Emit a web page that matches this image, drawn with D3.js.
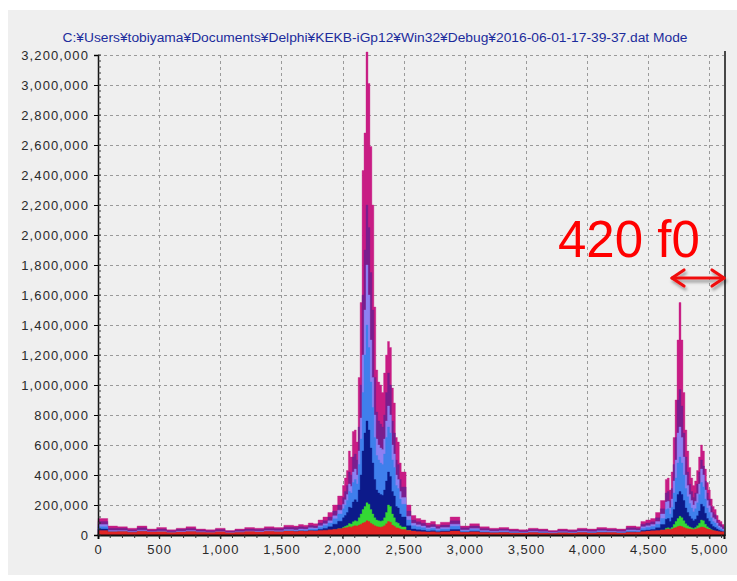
<!DOCTYPE html>
<html lang="en">
<head>
  <meta charset="UTF-8">
  <title>Bunch spectrum</title>
  <script src="https://d3js.org/d3.v7.min.js"></script>
  <style>
    html, body { margin: 0; padding: 0; background: #fff; }
    svg text { font-family: "Liberation Sans", Arial, sans-serif; }
  </style>
</head>
<body>
<svg id="chart" width="737" height="581"></svg>
<script>
// bin positions (bunch number) – finer around the two peaks
const bins = [
  0,80,160,240,320,400,480,560,640,720,800,880,960,1040,1120,1200,1280,1360,1440,1520,1600,
  1640,1680,1720,1760,1800,1840,1880,1920,1960,2000,
  2016,2032,2048,2064,2080,2096,2112,2128,2144,2160,2176,2192,2208,2224,2240,2256,2272,2288,2304,2320,2336,2352,2368,2384,2400,2416,2432,2448,2464,2480,
  2520,2560,2600,2640,2680,2720,2760,2800,
  2880,2960,3040,3120,3200,3280,3360,3440,3520,3600,3680,3760,3840,3920,4000,4080,4160,4240,4320,4400,
  4440,4480,4520,4560,4600,4640,
  4656,4672,4688,4704,4720,4736,4752,4768,4784,4800,4816,4832,4848,4864,4880,4896,4912,4928,4944,4960,4976,4992,5008,5024,5040,5056,5072,5088,5104,5120
];

// amplitudes, in thousands
const pinkK = [
  110,60,55,45,60,40,50,35,45,55,40,35,45,30,40,50,45,55,50,65,60,
  70,65,80,75,100,120,150,200,260,330,
  380,430,560,520,690,700,620,1050,1550,2430,2680,3220,3010,2590,2200,1520,1100,1020,1000,950,1080,1200,1290,1250,980,880,650,620,480,420,
  200,130,110,100,80,90,70,85,
  120,60,75,55,45,50,40,35,45,40,30,40,35,45,40,50,45,40,60,55,
  90,100,110,150,230,370,
  380,300,420,650,900,1300,1550,1300,950,700,560,450,380,330,360,430,520,600,560,440,350,300,240,190,170,130,100,90,70,60
];
const purpleK = [
  90,45,45,35,48,32,40,28,38,44,33,28,36,25,33,40,37,44,41,52,50,
  55,52,64,60,80,95,120,160,200,250,
  290,330,420,400,520,540,500,720,1000,1600,1900,2200,2050,1750,1500,1050,820,760,740,720,800,950,1080,1000,760,680,500,470,370,320,
  160,100,88,78,64,70,56,66,
  95,48,60,44,36,40,32,28,36,32,24,32,28,36,32,40,36,32,48,44,
  72,80,88,115,175,280,
  290,230,310,470,650,900,970,860,680,520,420,340,290,250,280,340,420,500,460,360,280,240,190,150,135,100,80,70,55,48
];
const violetK = [
  70,30,30,24,32,22,27,19,25,30,22,19,24,17,22,27,25,30,28,36,34,
  40,38,48,46,62,75,95,128,165,205,
  235,270,340,325,420,440,400,560,780,1200,1500,1800,1600,1300,1050,800,640,600,580,570,640,760,860,800,600,540,400,370,290,250,
  125,78,68,60,48,54,42,50,
  72,34,44,30,25,28,22,19,25,22,17,22,19,25,22,28,25,22,34,31,
  55,62,70,90,140,220,
  225,180,240,360,500,680,720,650,520,400,330,270,230,200,225,275,340,440,400,300,230,195,150,115,105,80,60,52,40,34
];
const blueK = [
  55,24,25,20,26,18,22,16,20,24,18,16,20,14,18,22,20,24,23,30,28,
  34,32,40,40,52,64,80,108,140,175,
  200,230,290,280,350,370,340,470,640,950,1200,1400,1250,1020,850,650,530,500,480,470,540,650,720,680,500,450,330,310,240,205,
  100,62,55,48,38,43,34,40,
  58,27,35,24,20,22,18,15,20,18,14,18,15,20,18,22,20,18,27,25,
  44,50,56,72,110,170,
  175,140,185,280,380,480,520,480,400,310,255,210,180,155,175,215,270,350,320,240,180,150,115,90,80,62,48,40,32,28
];
const navyK = [
  40,18,19,15,20,14,17,12,15,18,14,12,15,11,14,17,15,18,17,22,21,
  25,24,29,29,37,44,55,72,92,115,
  130,150,185,180,220,235,220,300,400,560,680,760,700,580,480,370,300,280,270,265,300,360,420,390,290,260,190,180,140,120,
  62,40,35,31,25,28,22,26,
  36,18,23,16,14,15,12,11,14,12,10,12,11,14,12,15,14,12,18,17,
  30,33,37,48,70,105,
  110,90,115,170,220,270,290,270,230,180,150,125,108,95,105,128,160,205,190,145,110,92,72,57,50,40,32,27,22,20
];
const greenK = [
  18,10,10,8,11,8,9,7,8,10,8,7,8,6,8,9,8,10,9,12,11,
  13,12,15,15,19,22,27,34,42,52,
  58,64,76,74,88,95,92,115,140,170,190,215,205,170,140,115,100,95,92,95,115,150,200,190,140,115,85,78,62,54,
  30,20,17,15,12,13,11,12,
  16,9,11,8,7,8,6,6,7,6,5,6,6,7,6,8,7,6,9,9,
  14,16,18,22,32,45,
  48,42,50,70,90,110,125,115,95,75,62,54,48,44,50,62,78,100,95,72,55,46,36,29,25,20,16,14,11,10
];
const redK = [
  30,22,24,18,25,20,22,16,20,24,19,17,21,15,19,23,20,25,22,26,24,
  27,25,28,27,30,32,35,38,42,46,
  48,50,55,52,58,62,60,66,72,80,85,95,90,78,70,62,56,54,52,55,62,75,90,85,66,58,48,46,40,36,
  30,26,24,22,20,22,19,21,
  26,18,21,17,15,17,14,13,16,14,12,15,13,16,14,17,16,14,19,18,
  24,26,28,30,34,38,
  40,36,40,46,50,56,60,56,50,45,42,40,38,36,40,44,48,54,52,46,40,38,34,30,28,26,24,22,22,20
];

const seriesNames  = ["pink", "purple", "violet", "blue", "navy", "green", "red"];
const seriesValues = [pinkK, purpleK, violetK, blueK, navyK, greenK, redK];
const seriesColors = ["#c81c84", "#7a1e8e", "#8d80f2", "#3f7fec", "#0c1a8a", "#34d834", "#e02424"];

const yTicks = d3.range(0, 3200001, 200000);
const xTicks = d3.range(0, 5001, 500);
const titleText = "C:¥Users¥tobiyama¥Documents¥Delphi¥KEKB-iGp12¥Win32¥Debug¥2016-06-01-17-39-37.dat  Mode";

const svg = d3.select("#chart");

// panel background
svg.append("rect").attr("x", 8).attr("y", 10).attr("width", 729).attr("height", 565).attr("fill", "#efefef");

const x = d3.scaleLinear().domain([0, 5120]).range([98, 724]);
const y = d3.scaleLinear().domain([0, 3200000]).range([535, 55]);

// grid
const grid = svg.append("g").attr("stroke", "#9a9a9a").attr("stroke-dasharray", "3,3");
grid.selectAll("line.h").data(yTicks.slice(1)).join("line")
  .attr("x1", x(0)).attr("x2", x(5120))
  .attr("y1", d => y(d) + 0.5).attr("y2", d => y(d) + 0.5);
grid.selectAll("line.v").data(xTicks.slice(1)).join("line")
  .attr("y1", y(3200000)).attr("y2", y(0))
  .attr("x1", d => Math.round(x(d)) + 0.5).attr("x2", d => Math.round(x(d)) + 0.5);

// spectra, biggest first
const area = d3.area()
  .x((d, i) => x(bins[i]))
  .y0(y(0))
  .y1(d => y(d * 1000))
  .curve(d3.curveStepAfter);

svg.append("g").selectAll("path")
  .data(seriesValues)
  .join("path")
    .attr("d", d => area(d))
    .attr("fill", (d, i) => seriesColors[i])
    .attr("stroke", (d, i) => seriesColors[i])
    .attr("stroke-width", 0.6)
    .attr("stroke-opacity", 0.6);

// axes
const yAxis = svg.append("g")
  .attr("transform", `translate(${x(0)},0)`)
  .call(d3.axisLeft(y).tickValues(yTicks).tickSize(4).tickFormat(d3.format(",")));
yAxis.select(".domain").attr("stroke", "#111").attr("stroke-width", 1.5);
yAxis.selectAll("text")
  .attr("x", -9)
  .style("font-size", "13px")
  .style("letter-spacing", "1.1px")
  .attr("fill", "#2a2a2a");

const xAxis = svg.append("g")
  .attr("transform", `translate(0,${y(0)})`)
  .call(d3.axisBottom(x).tickValues(xTicks).tickSize(4).tickFormat(d3.format(",")));
xAxis.select(".domain").attr("stroke", "#111").attr("stroke-width", 2);
xAxis.selectAll("text")
  .attr("y", 10)
  .style("font-size", "13px")
  .style("letter-spacing", "1px")
  .attr("fill", "#2a2a2a");

// minor ticks
svg.append("g").attr("stroke", "#333").selectAll("line")
  .data(d3.range(0, 3200001, 40000)).join("line")
    .attr("x1", x(0)).attr("x2", x(0) + 3)
    .attr("y1", d => y(d)).attr("y2", d => y(d));
svg.append("g").attr("stroke", "#333").selectAll("line")
  .data(d3.range(100, 5101, 100)).join("line")
    .attr("y1", y(0)).attr("y2", y(0) + 3)
    .attr("x1", d => x(d)).attr("x2", d => x(d));

// right border
svg.append("line")
  .attr("x1", x(5120) + 1).attr("x2", x(5120) + 1)
  .attr("y1", 51).attr("y2", y(0) + 1)
  .attr("stroke", "#111").attr("stroke-width", 1.5);

// title
svg.append("text")
  .attr("x", 375).attr("y", 42)
  .attr("text-anchor", "middle")
  .attr("textLength", 625)
  .attr("lengthAdjust", "spacingAndGlyphs")
  .attr("fill", "#1c2c9c")
  .style("font-size", "12px")
  .text(titleText);

// annotation
const defs = svg.append("defs");
const shadow = defs.append("filter").attr("id", "shadow").attr("x", "-20%").attr("y", "-50%").attr("width", "140%").attr("height", "200%");
shadow.append("feDropShadow").attr("dx", 1.5).attr("dy", 3).attr("stdDeviation", 1.5).attr("flood-color", "#000").attr("flood-opacity", 0.35);

svg.append("text")
  .attr("x", 558).attr("y", 257)
  .attr("fill", "#ff0000")
  .style("font-size", "51px")
  .text("420 f0");

const arrow = svg.append("g")
  .attr("stroke", "#f01010").attr("stroke-width", 3.2)
  .attr("fill", "none").attr("stroke-linecap", "round").attr("stroke-linejoin", "round")
  .attr("filter", "url(#shadow)");
arrow.append("path").attr("d", "M672,278 L724,278");
arrow.append("path").attr("d", "M684,270 L672,278 L684,286");
arrow.append("path").attr("d", "M712,270 L724,278 L712,286");
</script>
</body>
</html>
